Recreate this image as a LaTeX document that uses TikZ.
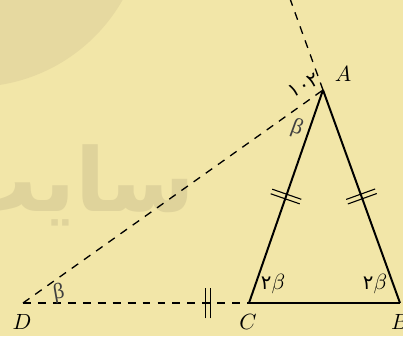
\documentclass[tikz,border=0pt]{standalone}
\usepackage{fontspec}
\usetikzlibrary{calc,decorations.markings}
\TeXXeTstate=1
\newfontfamily\fafont[Script=Arabic]{DejaVu Sans}
\newfontfamily\grfont{Liberation Serif}
\definecolor{bg}{RGB}{242,230,168}
\definecolor{wm}{RGB}{230,217,160}
\definecolor{wmtext}{RGB}{223,211,155}
\newcommand{\fadig}[1]{{\fafont\fontsize{9}{9}\selectfont #1}}
\begin{document}
\begin{tikzpicture}[x=0.455pt,y=-0.455pt,
  dashline/.style={line width=0.6pt, dash pattern=on 3.6pt off 3.2pt},
  solidline/.style={line width=0.9pt, line join=round},
  lbl/.style={inner sep=0pt},
  tickmarks/.style={postaction={decorate}, decoration={markings, mark=at position #1 with {\draw[solid,line width=0.5pt] (-1.1pt,-7pt) -- (-1.1pt,7pt) (1.1pt,-7pt) -- (1.1pt,7pt);}}},
  digit/.style={inner sep=0pt},
  grk/.style={inner sep=0pt, text=black!75, font=\grfont\fontsize{10}{10}\selectfont}
]
\fill[bg] (0,0) rectangle (403,336);
\useasboundingbox (0,0) rectangle (403,336);
% watermark
\fill[wm] (-27,-85) circle[radius=172];
\node[anchor=base east, inner sep=0pt, text=wmtext, font=\fafont\bfseries\fontsize{40}{40}\selectfont] (wmt) at (195,211) {\beginR سایت\endR};
% points
\coordinate (A) at (323,90);
\coordinate (B) at (400,303);
\coordinate (C) at (249,303);
\coordinate (D) at (23,303);
\coordinate (T) at ($(A)!-0.45!(B)$);
% lines
\draw[dashline] (D) -- (A);
\draw[dashline] (A) -- (T);
\draw[dashline, tickmarks=0.82] (D) -- (C);
\draw[solidline, tickmarks=0.5] (C) -- (A);
\draw[solidline, tickmarks=0.5] (A) -- (B);
\draw[solidline] (C) -- (B);
% labels
\node[lbl] (lA) at (343,74) {$A$};
\node[lbl] (lB) at (400,322) {$B$};
\node[lbl] (lC) at (248,322) {$C$};
\node[lbl] (lD) at (22,322) {$D$};
\node[digit] (aC) at (273,284) {\fadig{۲}$\beta$};
\node[digit] (aB) at (375,284) {\fadig{۲}$\beta$};
\node[grk, rotate=10] (bD) at (59,293) {β};
\node[grk, rotate=-20] (bA) at (297,128) {β};
\node[digit, rotate=28] (ext) at (304,85) {\fadig{۱۰۲}};
\end{tikzpicture}
\end{document}
